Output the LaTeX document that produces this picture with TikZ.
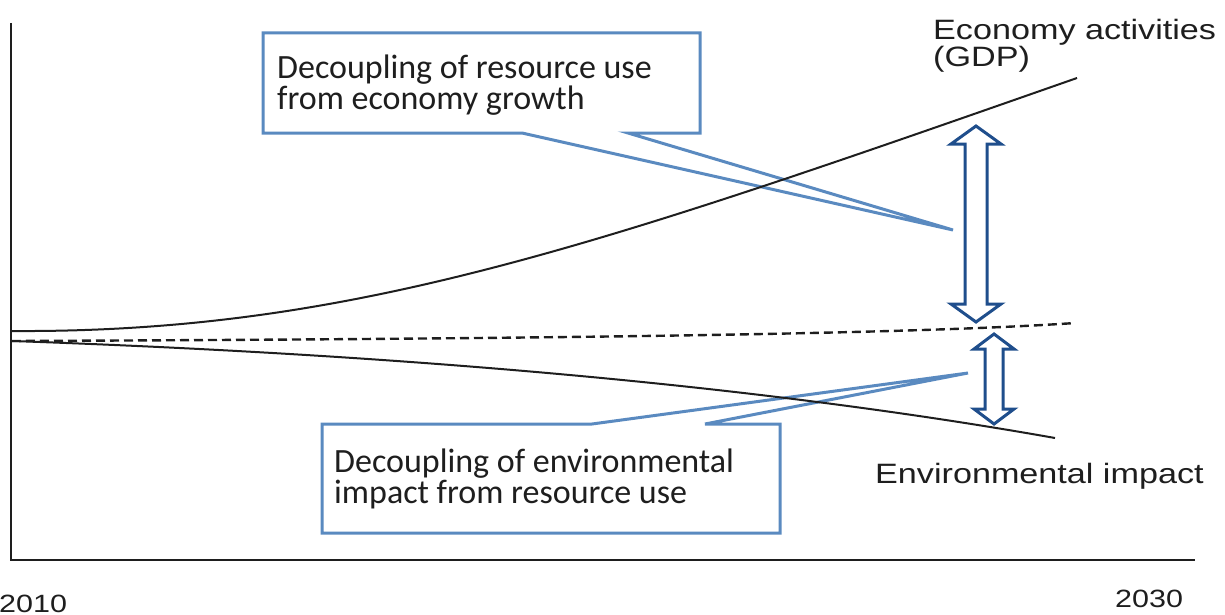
\documentclass[tikz,border=0pt]{standalone}
\usepackage{fontspec}
\newfontfamily\calfont{Carlito}
\newfontfamily\arfont[FakeStretch=1.22]{Liberation Sans}
\definecolor{calblue}{RGB}{90,138,192}
\definecolor{arrblue}{RGB}{31,78,140}
\definecolor{ink}{RGB}{30,30,30}
\begin{document}
\begin{tikzpicture}[x=1pt,y=-1pt,
  axis/.style={draw=ink, line width=2.8pt},
  curve/.style={draw=ink, line width=2pt},
  dashcurve/.style={draw=ink, line width=2.4pt, dash pattern=on 9pt off 5pt},
  callout/.style={draw=calblue, line width=3pt, fill=white, line join=miter},
  hollowarrow/.style={draw=arrblue, line width=3pt, fill=white, line join=miter, miter limit=10},
  boxtext/.style={font=\calfont\fontsize{34}{31}\selectfont, align=left, inner sep=0pt, anchor=base west, text=ink},
  lbl/.style={font=\arfont\fontsize{28}{27}\selectfont, align=left, inner sep=0pt, anchor=base west, text=ink},
  yearlbl/.style={font=\arfont\fontsize{25}{25}\selectfont, inner sep=0pt, anchor=base west, text=ink},
]
\useasboundingbox (0,0) rectangle (1225,615);

% axes
\coordinate (ytop) at (11,23);
\coordinate (origin) at (11,560);
\coordinate (xend) at (1195,560);
\draw[axis] (ytop) -- (origin) -- (xend);

% callout 1
\coordinate (c1nw) at (263,33);
\coordinate (c1se) at (700,133);
\coordinate (c1a) at (522,133);
\coordinate (c1b) at (628,133);
\coordinate (c1tip) at (953,230);
\draw[callout] (c1a) -- (c1nw |- c1a) -- (c1nw) -- (c1se |- c1nw) -- (c1se) -- (c1b) -- (c1tip) -- cycle;

% callout 2
\coordinate (c2nw) at (322,424);
\coordinate (c2se) at (780,533);
\coordinate (c2a) at (592,424);
\coordinate (c2b) at (705,424);
\coordinate (c2tip) at (968,373);
\draw[callout] (c2a) -- (c2tip) -- (c2b) -- (c2se |- c2nw) -- (c2se) -- (c2nw |- c2se) -- (c2nw) -- cycle;

% curves
\coordinate (gdpS) at (12,331);
\coordinate (gdpE) at (1077,78);
\draw[curve] (gdpS) .. controls (350,333) and (600,245) .. (gdpE);
\coordinate (resS) at (12,341);
\coordinate (resE) at (1075,323);
\draw[dashcurve] (resS) .. controls (500,339) and (900,335) .. (resE);
\coordinate (envS) at (12,341);
\coordinate (envE) at (1055,438);
\draw[curve] (envS) .. controls (300,351) and (700,375) .. (envE);

% big double arrow
\coordinate (a1t) at (976,126);
\coordinate (a1b) at (976,322);
\draw[hollowarrow] (a1t) -- ++(25,18) -- ++(-14,0) -- (987,304) -- ++(14,0) -- (a1b)
  -- (951,304) -- ++(14,0) -- (965,144) -- ++(-14,0) -- cycle;

% small double arrow
\coordinate (a2t) at (994,334);
\coordinate (a2b) at (994,424);
\draw[hollowarrow] (a2t) -- ++(20,15) -- ++(-11,0) -- (1003,409) -- ++(11,0) -- (a2b)
  -- (974,409) -- ++(11,0) -- (985,349) -- ++(-11,0) -- cycle;

% texts (multi-line nodes: base = baseline of last line)
\node[boxtext] (t1) at (277,110) {Decoupling of resource use\\from economy growth};
\node[boxtext] (t2) at (334,503) {Decoupling of environmental\\impact from resource use};
\node[lbl] (gdp) at (933,67) {Economy activities\\(GDP)};
\node[lbl] (env) at (875,483) {Environmental impact};
\node[yearlbl] (y2010) at (-1,612) {2010};
\node[yearlbl] (y2030) at (1115,607) {2030};
\end{tikzpicture}
\end{document}
